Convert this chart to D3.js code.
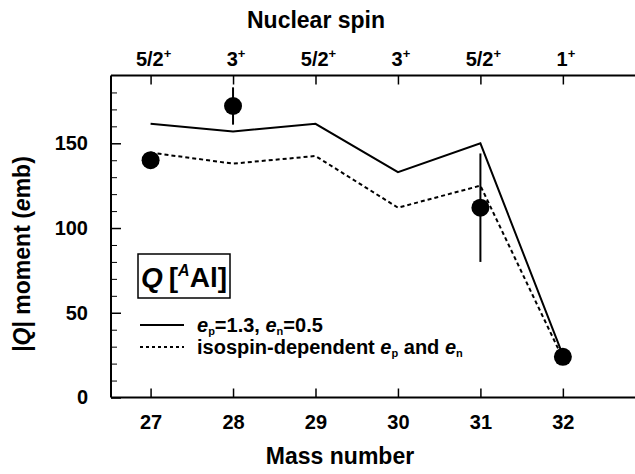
<!DOCTYPE html>
<html lang="en">
<head>
    <meta charset="UTF-8">
    <title>Q moment of Al isotopes</title>
    <style>
        body { margin: 0; background: #fff; }
        svg { font-family: "Liberation Sans", Arial, sans-serif; font-weight: bold; }
    </style>
</head>
<body>
<div id="chart"></div>
<script src="https://cdn.jsdelivr.net/npm/d3@7"></script>
<script>
    // data
    let massNumbers = [27, 28, 29, 30, 31, 32]
    let spins = ['5/2', '3', '5/2', '3', '5/2', '1']
    let solidCalc = [161.5, 157, 161.5, 133, 150, 25]
    let isoCalc = [144.5, 138, 142.5, 112, 125, 23]
    let expMass = [27, 28, 31, 32]
    let expQ = [140, 172, 112, 24]
    let expErr = [0, 11, 32, 0]
    let yTicks = [0, 50, 100, 150]

    let width = 635, height = 474
    let svg = d3.select('#chart').append('svg')
        .attr('width', width)
        .attr('height', height)

    let x = d3.scaleLinear().domain([26.52, 32.87]).range([111, 634.6])
    let y = d3.scaleLinear().domain([0, 190]).range([397.5, 75.5])

    // frame lines (right side cut off in the picture)
    let frame = svg.append('g').attr('stroke', '#000').attr('stroke-width', 2)
    frame.append('line').attr('x1', x.range()[0]).attr('x2', width).attr('y1', y(0)).attr('y2', y(0))
    frame.append('line').attr('x1', x.range()[0]).attr('x2', width).attr('y1', y(190)).attr('y2', y(190))
    frame.append('line').attr('x1', x.range()[0]).attr('x2', x.range()[0]).attr('y1', y(0)).attr('y2', y(190))

    // bottom axis, ticks inside
    let xb = svg.append('g').attr('transform', `translate(0,${y(0)})`)
        .call(d3.axisBottom(x).tickValues(massNumbers).tickSize(-9).tickPadding(17).tickFormat(d3.format('d')))
    xb.select('.domain').remove()
    xb.selectAll('line').attr('stroke-width', 1.5)
    xb.selectAll('text').attr('font-size', 20).attr('font-family', 'Liberation Sans').attr('font-weight', 'bold')

    // top axis, ticks inside, spins as labels
    let xt = svg.append('g').attr('transform', `translate(0,${y(190)})`)
        .call(d3.axisTop(x).tickValues(massNumbers).tickSize(-9).tickFormat(''))
    xt.select('.domain').remove()
    xt.selectAll('line').attr('stroke-width', 1.5)
    svg.append('g').selectAll('text')
        .data(massNumbers)
        .enter()
        .append('text')
        .attr('x', d => x(d) + 3)
        .attr('y', 66)
        .attr('text-anchor', 'middle')
        .attr('font-size', 20)
        .each(function (d, i) {
            let t = d3.select(this)
            t.append('tspan').text(spins[i])
            t.append('tspan').attr('dy', -8).attr('font-size', 13).text('+')
        })

    // left axis with minor ticks
    let yl = svg.append('g').attr('transform', `translate(${x.range()[0]},0)`)
        .call(d3.axisLeft(y).tickValues(yTicks).tickSize(-10).tickPadding(23))
    yl.select('.domain').remove()
    yl.selectAll('line').attr('stroke-width', 1.5)
    yl.selectAll('text').attr('font-size', 20).attr('font-family', 'Liberation Sans').attr('font-weight', 'bold')
    let ym = svg.append('g').attr('transform', `translate(${x.range()[0]},0)`)
        .call(d3.axisLeft(y).tickValues(d3.range(10, 190, 10).filter(d => d % 50)).tickSize(-6).tickFormat(''))
    ym.select('.domain').remove()
    ym.selectAll('line').attr('stroke-width', 1)

    // axis titles
    svg.append('text').attr('x', 316).attr('y', 28).attr('text-anchor', 'middle')
        .attr('font-size', 23).text('Nuclear spin')
    svg.append('text').attr('x', 340).attr('y', 464).attr('text-anchor', 'middle')
        .attr('font-size', 23).text('Mass number')
    let yt = svg.append('text').attr('transform', 'translate(30,254) rotate(-90)')
        .attr('text-anchor', 'middle').attr('font-size', 23)
    yt.append('tspan').text('|')
    yt.append('tspan').attr('font-style', 'italic').text('Q')
    yt.append('tspan').text('| moment (')
    yt.append('tspan').attr('font-style', 'italic').text('e')
    yt.append('tspan').text('mb)')

    // calculated lines
    let line = d3.line().x((d, i) => x(massNumbers[i])).y(d => y(d))
    svg.append('path').datum(solidCalc).attr('d', line)
        .attr('fill', 'none').attr('stroke', '#000').attr('stroke-width', 2)
    svg.append('path').datum(isoCalc).attr('d', line)
        .attr('fill', 'none').attr('stroke', '#000').attr('stroke-width', 2).attr('stroke-dasharray', '4,3')

    // experimental values with error bars
    let exp = expMass.map((m, i) => ({m: m, q: expQ[i], e: expErr[i]}))
    svg.append('g').selectAll('line')
        .data(exp.filter(d => d.e > 0))
        .enter()
        .append('line')
        .attr('x1', d => x(d.m)).attr('x2', d => x(d.m))
        .attr('y1', d => y(d.q - d.e)).attr('y2', d => y(d.q + d.e))
        .attr('stroke', '#000').attr('stroke-width', 2)
    svg.append('g').selectAll('circle')
        .data(exp)
        .enter()
        .append('circle')
        .attr('cx', d => x(d.m)).attr('cy', d => y(d.q)).attr('r', 9)
        .attr('fill', '#000')

    // label box
    let box = svg.append('rect').attr('fill', '#fff').attr('stroke', '#000').attr('stroke-width', 1.5)
    let lab = svg.append('text').attr('x', 141).attr('y', 287).attr('font-size', 28)
    lab.append('tspan').attr('font-style', 'italic').text('Q')
    lab.append('tspan').attr('dx', 6).text('[')
    lab.append('tspan').attr('font-style', 'italic').attr('font-size', 16).attr('dy', -11).text('A')
    lab.append('tspan').attr('dy', 11).text('Al]')
    let bb = lab.node().getBBox()
    box.attr('x', Math.round(bb.x - 3)).attr('y', 254).attr('width', Math.round(bb.width + 6)).attr('height', 44)

    // legend
    let lg = svg.append('g')
    lg.append('line').attr('x1', 140).attr('x2', 184).attr('y1', 325).attr('y2', 325)
        .attr('stroke', '#000').attr('stroke-width', 2)
    lg.append('line').attr('x1', 140).attr('x2', 184).attr('y1', 347).attr('y2', 347)
        .attr('stroke', '#000').attr('stroke-width', 2).attr('stroke-dasharray', '3,3')
    let l1 = lg.append('text').attr('x', 197).attr('y', 332).attr('font-size', 20)
    l1.append('tspan').attr('font-style', 'italic').text('e')
    l1.append('tspan').attr('font-size', 11).attr('dy', 3).text('p')
    l1.append('tspan').attr('dy', -3).text('=1.3, ')
    l1.append('tspan').attr('font-style', 'italic').text('e')
    l1.append('tspan').attr('font-size', 11).attr('dy', 3).text('n')
    l1.append('tspan').attr('dy', -3).text('=0.5')
    let l2 = lg.append('text').attr('x', 197).attr('y', 354).attr('font-size', 20)
    l2.append('tspan').text('isospin-dependent ')
    l2.append('tspan').attr('font-style', 'italic').text('e')
    l2.append('tspan').attr('font-size', 11).attr('dy', 3).text('p')
    l2.append('tspan').attr('dy', -3).text(' and ')
    l2.append('tspan').attr('font-style', 'italic').text('e')
    l2.append('tspan').attr('font-size', 11).attr('dy', 3).text('n')
</script>
</body>
</html>
